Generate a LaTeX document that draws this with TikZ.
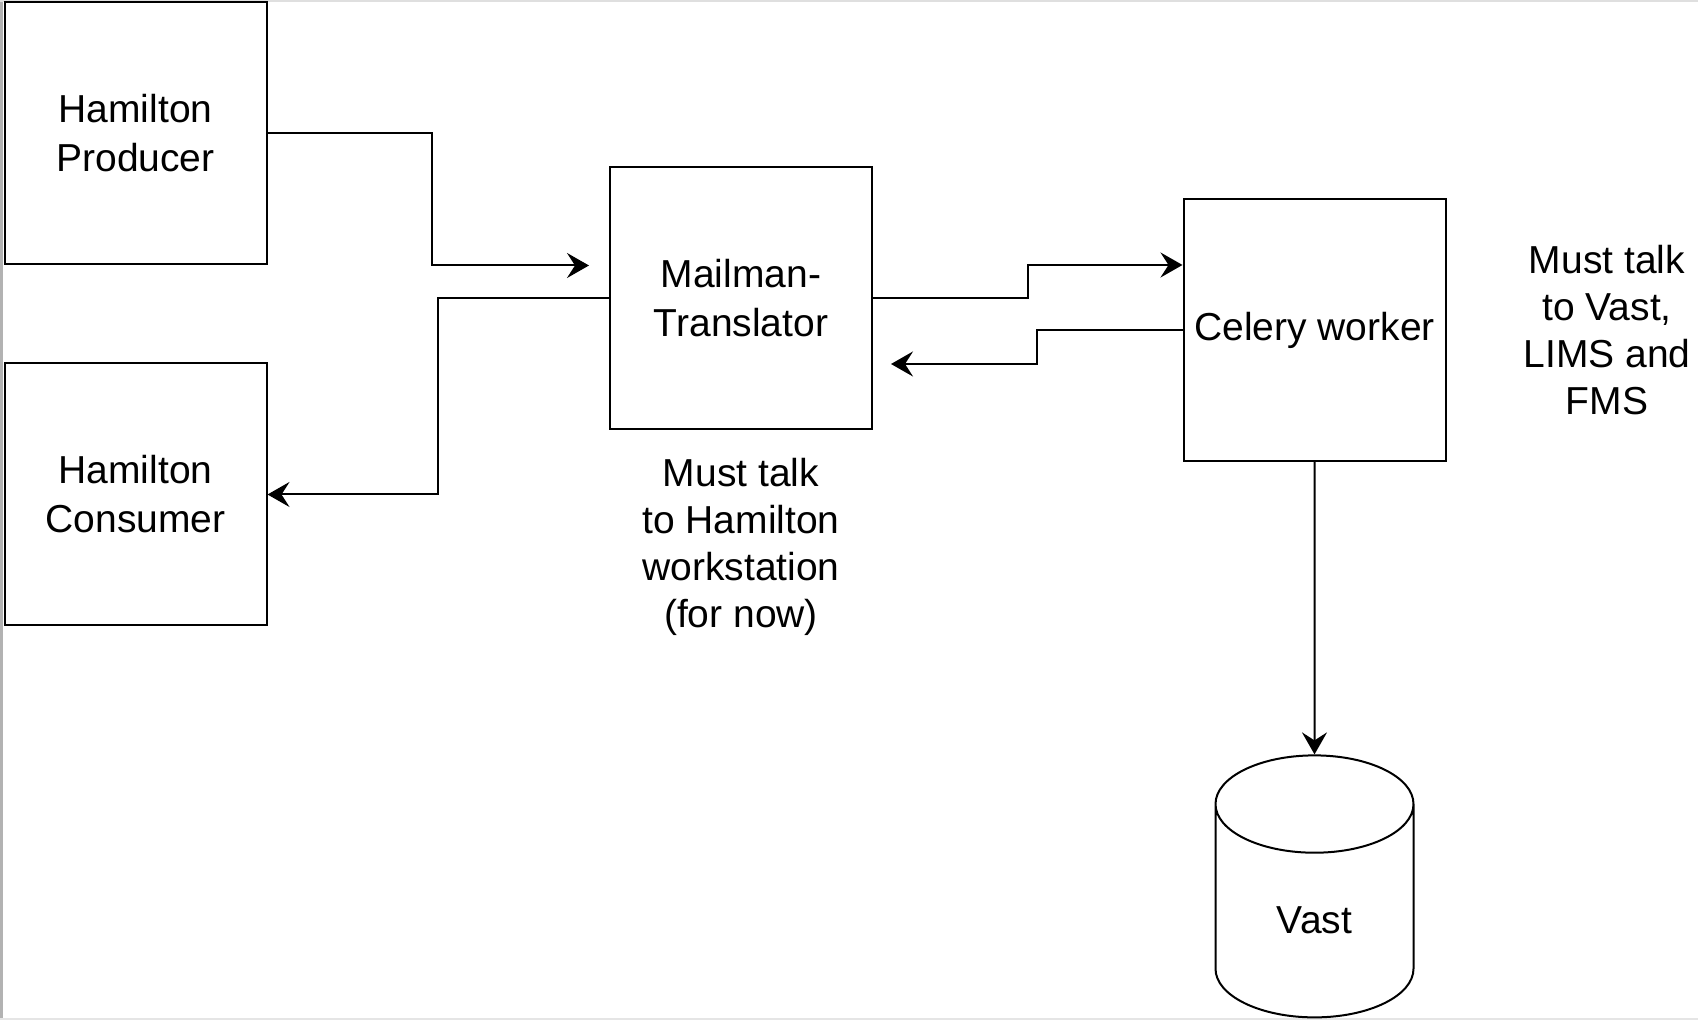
\documentclass[tikz,border=0pt]{standalone}
\usepackage{fontspec}
\setmainfont{Liberation Sans}
\usetikzlibrary{arrows.meta, positioning, shapes.geometric}

\begin{document}
\begin{tikzpicture} [x=0.5pt, y=-0.5pt, on grid, line width=1pt,
    font=\fontsize{19.5}{24.5}\selectfont,
    block/.style = {draw, minimum width=131pt, minimum height=131pt, align=center, inner sep=0pt},
    note/.style = {align=center, font=\fontsize{19.5}{23.4}\selectfont},
    flow/.style = {-{Stealth[length=11pt, width=12.5pt, inset=4pt]}}]
    \useasboundingbox (0,0) rectangle (1698,1020);
    % window frame
    \fill [gray!60] (0,0) rectangle (3,1020);
    \draw [gray!25, line width=1.5pt] (0,1) -- (1698,1);
    \draw [gray!20, line width=1.5pt] (0,1019) -- (1698,1019);

    \node (producer) [block] at (135.5,133.5) {Hamilton\\Producer};
    \node (consumer) [block, below = 180.5pt of producer] {Hamilton\\Consumer};
    \node (mailman) [block, below right = 82.25pt and 302.75pt of producer] {Mailman-\\Translator};
    \node (celery) [block, below right = 16pt and 286.75pt of mailman] {Celery worker};
    \node (vast) [draw, cylinder, shape border rotate=90, aspect=1.1,
        minimum width=99pt, minimum height=131pt, below = 295pt of celery] {Vast};
    \node (hamnote) [note, below = 124.5pt of mailman] {Must talk\\to Hamilton\\workstation\\(for now)};
    \node (vastnote) [note, right = 146.25pt of celery] {Must talk\\to Vast,\\LIMS and\\FMS};

    \draw [flow, shorten >=10pt] (producer.east) -- ++(82pt,0pt) |- ([yshift=16.25pt]mailman.west);
    \draw [flow] (mailman.west) -- ++(-85.5pt,0pt) |- (consumer.east);
    \draw [flow] (mailman.east) -- ++(77.5pt,0pt) |- ([yshift=32.5pt]celery.west);
    \draw [flow, shorten >=9pt] (celery.west) -- ++(-73pt,0pt) |- ([yshift=-33pt]mailman.east);
    \draw [flow] (celery.south) -- (vast.north);
\end{tikzpicture}
\end{document}
